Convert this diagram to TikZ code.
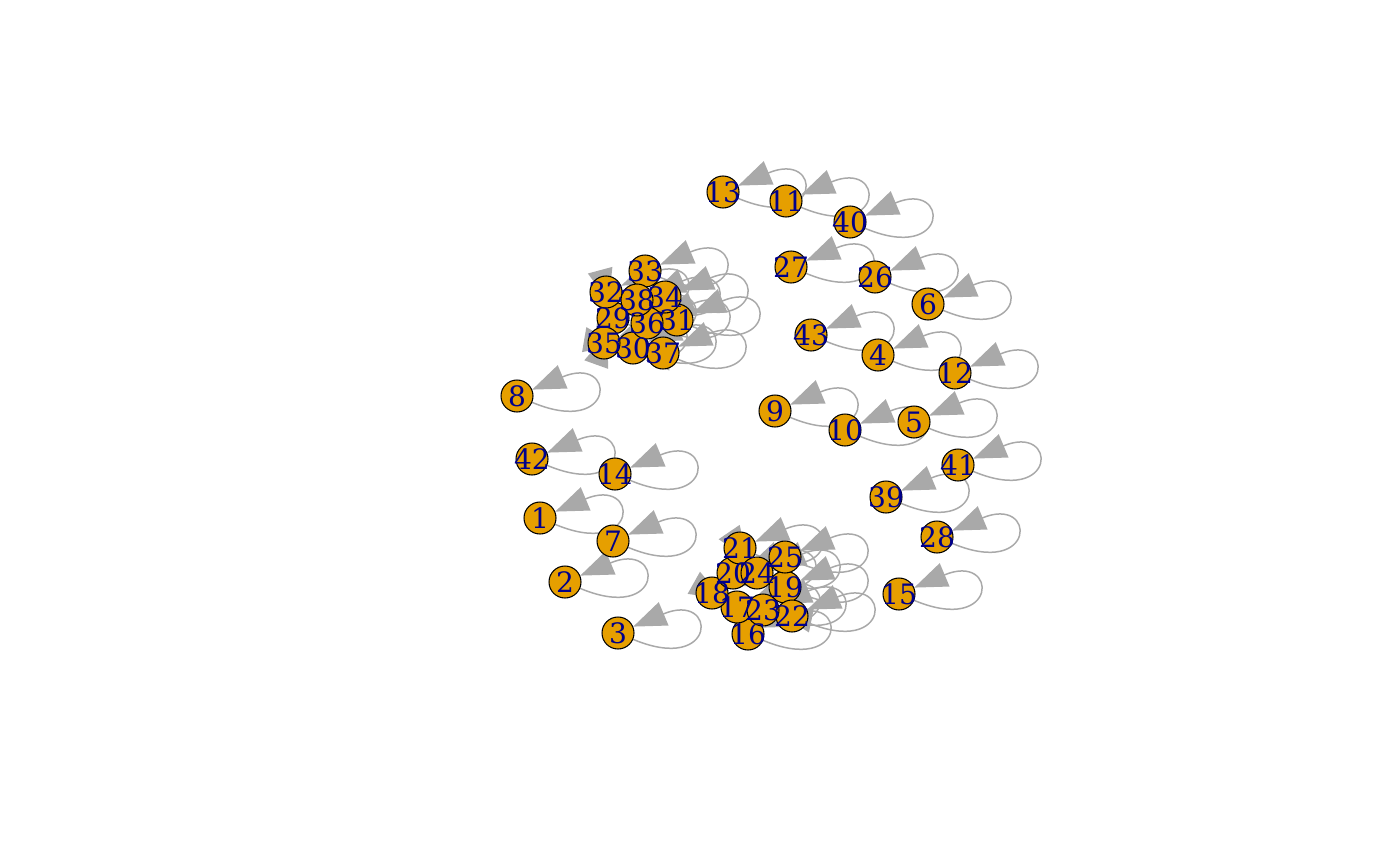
\documentclass[tikz,border=0pt]{standalone}
\usepackage{fontspec}
\setmainfont{DejaVu Serif}
\usetikzlibrary{arrows.meta}
\definecolor{vertexcolor}{HTML}{E69F00}
\definecolor{edgecolor}{HTML}{A9A9A9}
\definecolor{labelcolor}{HTML}{00008B}
\pgfdeclarelayer{background}
\pgfsetlayers{background,main}

\begin{document}
\begin{tikzpicture}[x=0.02cm, y=-0.02cm,
    vertex/.style={circle, draw=black, line width=0.6pt, fill=vertexcolor, minimum size=0.64cm, inner sep=0pt},
    vlabel/.style={text=labelcolor, font=\fontsize{16}{16}\selectfont, inner sep=0pt},
    selfloop/.style={draw=edgecolor, line width=0.03cm, -{Triangle[length=0.66cm, width=0.5cm]}},
    arc/.style={draw=edgecolor, line width=0.03cm, -{Triangle[length=0.66cm, width=0.5cm]}}]

    \useasboundingbox (0,0) rectangle (1400,865);

    % Vertices
    \foreach \n/\x/\y in {1/540/518, 2/565/582, 3/618/633, 4/878/355, 5/914/422,
        6/928/304, 7/613/541, 8/517/396, 9/775/411, 10/845/430, 11/786/201,
        12/955/373, 13/723/192, 14/615/474, 15/899/594, 16/748/634, 17/737/607,
        18/712/593, 19/785/587, 20/733/573, 21/740/548, 22/792/616, 23/763/610,
        24/757/573, 25/785/557, 26/875/277, 27/791/267, 28/937/537, 29/613/318,
        30/633/348, 31/677/320, 32/606/292, 33/645/271, 34/665/297, 35/604/343,
        36/647/323, 37/663/353, 38/637/300, 39/886/497, 40/850/222, 41/958/465,
        42/532/459, 43/811/335}
        \node [vertex] (n\n) at (\x,\y) {};

    % Labels
    \foreach \n in {1,...,43}
        \node [vlabel] at (n\n) {\n};

    % Edges
    \begin{pgfonlayer}{background}
    \foreach \n in {1,...,43}
        \draw [selfloop] (n\n) .. controls +(100,42) and +(100,-42) .. (n\n);
    \foreach \a/\b in {32/29, 29/36, 35/30, 35/29, 37/31, 21/24, 18/17, 22/23}
        \draw [arc] (n\a.center) -- (n\b);
    \end{pgfonlayer}

\end{tikzpicture}
\end{document}
